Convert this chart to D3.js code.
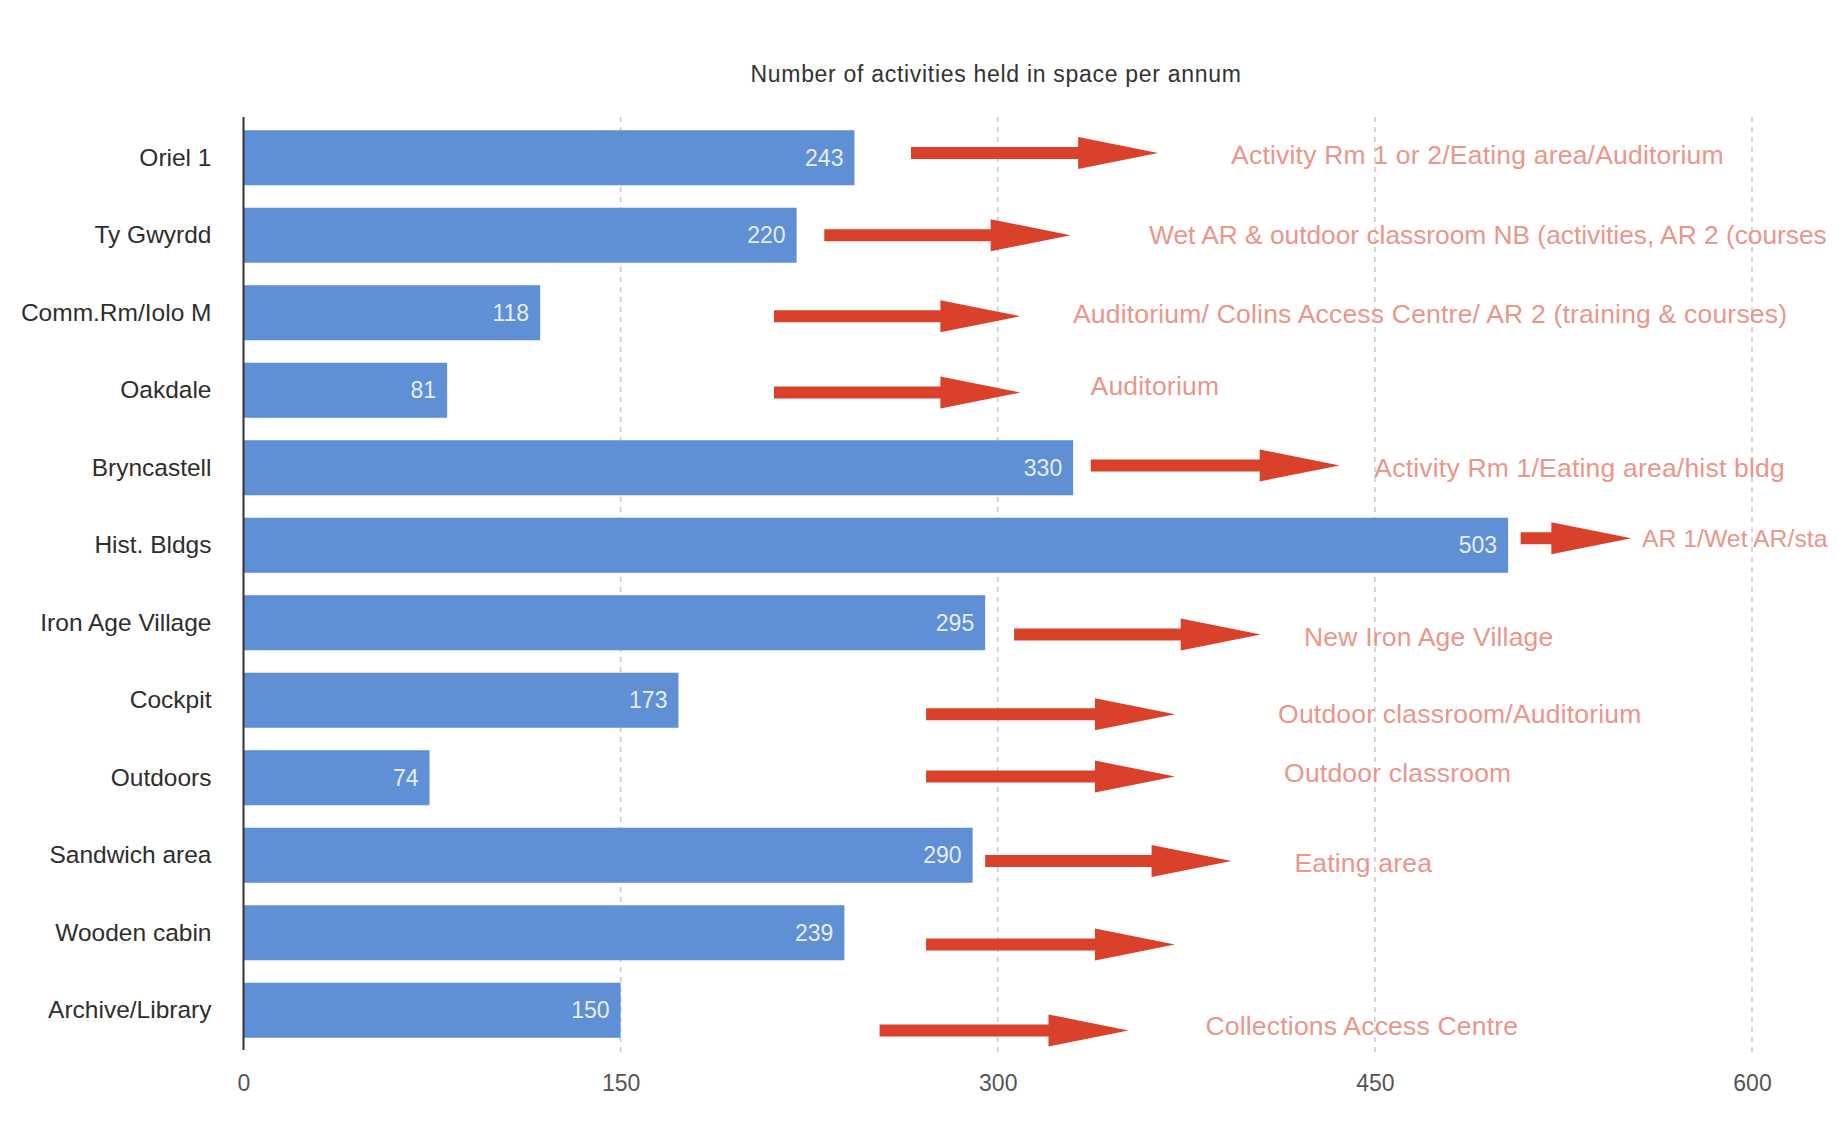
<!DOCTYPE html>
<html>
<head>
<meta charset="utf-8">
<script src="https://cdn.jsdelivr.net/npm/d3@7"></script>
<style>
  body { margin: 0; background: #fff; }
  text { font-family: "Liberation Sans", Arial, sans-serif; }
</style>
</head>
<body>
<div class="chart"></div>
<script>
// spaces and number of activities per year
let spaces = ["Oriel 1", "Ty Gwyrdd", "Comm.Rm/Iolo M", "Oakdale", "Bryncastell", "Hist. Bldgs",
    "Iron Age Village", "Cockpit", "Outdoors", "Sandwich area", "Wooden cabin", "Archive/Library"];
let activities = [243, 220, 118, 81, 330, 503, 295, 173, 74, 290, 239, 150];
let ticks = [0, 150, 300, 450, 600];

// red arrows (in activity units) and where the space moves to
let arrowFrom = [265.5, 231, 211, 211, 337, 508, 306.5, 271.5, 271.5, 295, 271.5, 253];
let arrowTo = [363.8, 329, 309, 309, 436, 552, 404.6, 370.5, 370.5, 393, 370.5, 352];
let arrowShift = [-0.06, 0, 0.045, 0.03, -0.03, -0.09, 0.15, 0.18, -0.015, 0.075, 0.15, 0.26];
let notes = ["Activity Rm 1 or 2/Eating area/Auditorium",
    "Wet AR & outdoor classroom NB (activities, AR 2 (courses",
    "Auditorium/ Colins Access Centre/ AR 2 (training & courses)",
    "Auditorium",
    "Activity Rm 1/Eating area/hist bldg",
    "AR 1/Wet AR/sta",
    "New Iron Age Village",
    "Outdoor classroom/Auditorium",
    "Outdoor classroom",
    "Eating area",
    "",
    "Collections Access Centre"];
let noteAt = [392.8, 360.2, 329.9, 336.9, 449.8, 556.2, 421.8, 411.5, 413.9, 418, 0, 382.6];
let noteShift = [-0.04, 0, 0.015, -0.06, 0, -0.09, 0.18, 0.18, -0.06, 0.09, 0, 0.2];

let width = 1838, height = 1132;

let svg = d3.select('.chart').append('svg')
    .attr('width', width)
    .attr('height', height);

let x = d3.scaleLinear().domain([0, 600]).range([243.5, 1752]);
let y = d3.scaleBand().domain(spaces).range([119, 1049]).paddingInner(0.29).paddingOuter(0.145);
let mid = (i, shift) => y(spaces[i]) + y.bandwidth() / 2 + shift * y.step();

// dashed grid lines
svg.append('g')
    .selectAll('line')
    .data(ticks.slice(1))
    .enter().append('line')
    .attr('x1', d => x(d)).attr('x2', d => x(d))
    .attr('y1', 117).attr('y2', 1052)
    .attr('stroke', '#c8c8c8')
    .attr('stroke-width', 1.5)
    .attr('stroke-dasharray', '5,5');

// bars
svg.append('g')
    .selectAll('rect')
    .data(activities)
    .enter().append('rect')
    .attr('x', x(0))
    .attr('y', (d, i) => y(spaces[i]))
    .attr('width', d => x(d) - x(0))
    .attr('height', y.bandwidth())
    .attr('fill', '#5f8fd4');

// values inside the bars
svg.append('g')
    .selectAll('text')
    .data(activities)
    .enter().append('text')
    .attr('x', d => x(d) - 11)
    .attr('y', (d, i) => mid(i, 0))
    .attr('dy', '0.35em')
    .attr('text-anchor', 'end')
    .attr('font-size', 23)
    .attr('fill', '#e6eefa')
    .text(d => d);

// y axis (labels + line)
let yAxis = d3.axisLeft(y).tickSize(0).tickPadding(32);
let gy = svg.append('g')
    .attr('transform', 'translate(' + x(0) + ',0)')
    .call(yAxis);
gy.select('.domain').remove();
gy.selectAll('text')
    .attr('font-size', 24.5)
    .attr('font-family', '"Liberation Sans", Arial, sans-serif')
    .attr('fill', '#2e2e2e');
svg.append('line')
    .attr('x1', x(0)).attr('x2', x(0))
    .attr('y1', 117).attr('y2', 1050)
    .attr('stroke', '#333')
    .attr('stroke-width', 2);

// x axis labels only
let xAxis = d3.axisBottom(x).tickValues(ticks).tickSize(0).tickPadding(0);
let gx = svg.append('g')
    .attr('transform', 'translate(0,1075)')
    .call(xAxis);
gx.select('.domain').remove();
gx.selectAll('text')
    .attr('font-size', 23)
    .attr('font-family', '"Liberation Sans", Arial, sans-serif')
    .attr('fill', '#555');

// title
svg.append('text')
    .attr('x', 996)
    .attr('y', 74)
    .attr('dy', '0.35em')
    .attr('text-anchor', 'middle')
    .attr('font-size', 23)
    .attr('letter-spacing', 0.7)
    .attr('fill', '#333')
    .text('Number of activities held in space per annum');

// arrows
function arrowPath(d, i) {
    let x0 = x(arrowFrom[i]), x1 = x(arrowTo[i]), cy = mid(i, arrowShift[i]);
    let xh = x1 - 80;
    return 'M' + x0 + ',' + (cy - 6) + 'L' + xh + ',' + (cy - 6) + 'L' + xh + ',' + (cy - 16) +
        'L' + x1 + ',' + cy + 'L' + xh + ',' + (cy + 16) + 'L' + xh + ',' + (cy + 6) +
        'L' + x0 + ',' + (cy + 6) + 'Z';
}
svg.append('g')
    .selectAll('path')
    .data(arrowFrom)
    .enter().append('path')
    .attr('d', arrowPath)
    .attr('fill', '#d9412b');

// where each activity goes
let noteText = svg.append('g')
    .selectAll('text')
    .data(notes)
    .enter().append('text')
    .attr('x', (d, i) => x(noteAt[i]))
    .attr('y', (d, i) => mid(i, noteShift[i]))
    .attr('dy', '0.35em')
    .attr('font-size', 26.5)
    .attr('letter-spacing', 0.2)
    .attr('fill', '#eb958b')
    .text(d => d);

// shrink the long notes so they stay inside the right edge
noteText.each(function (d, i) {
    let room = width - 10 - x(noteAt[i]);
    let sel = d3.select(this);
    let len = this.getComputedTextLength();
    if (len > room) {
        sel.attr('letter-spacing', 0);
        let size = 26.5 * room / this.getComputedTextLength();
        sel.attr('font-size', Math.floor(size * 10) / 10);
    }
});
</script>
</body>
</html>
